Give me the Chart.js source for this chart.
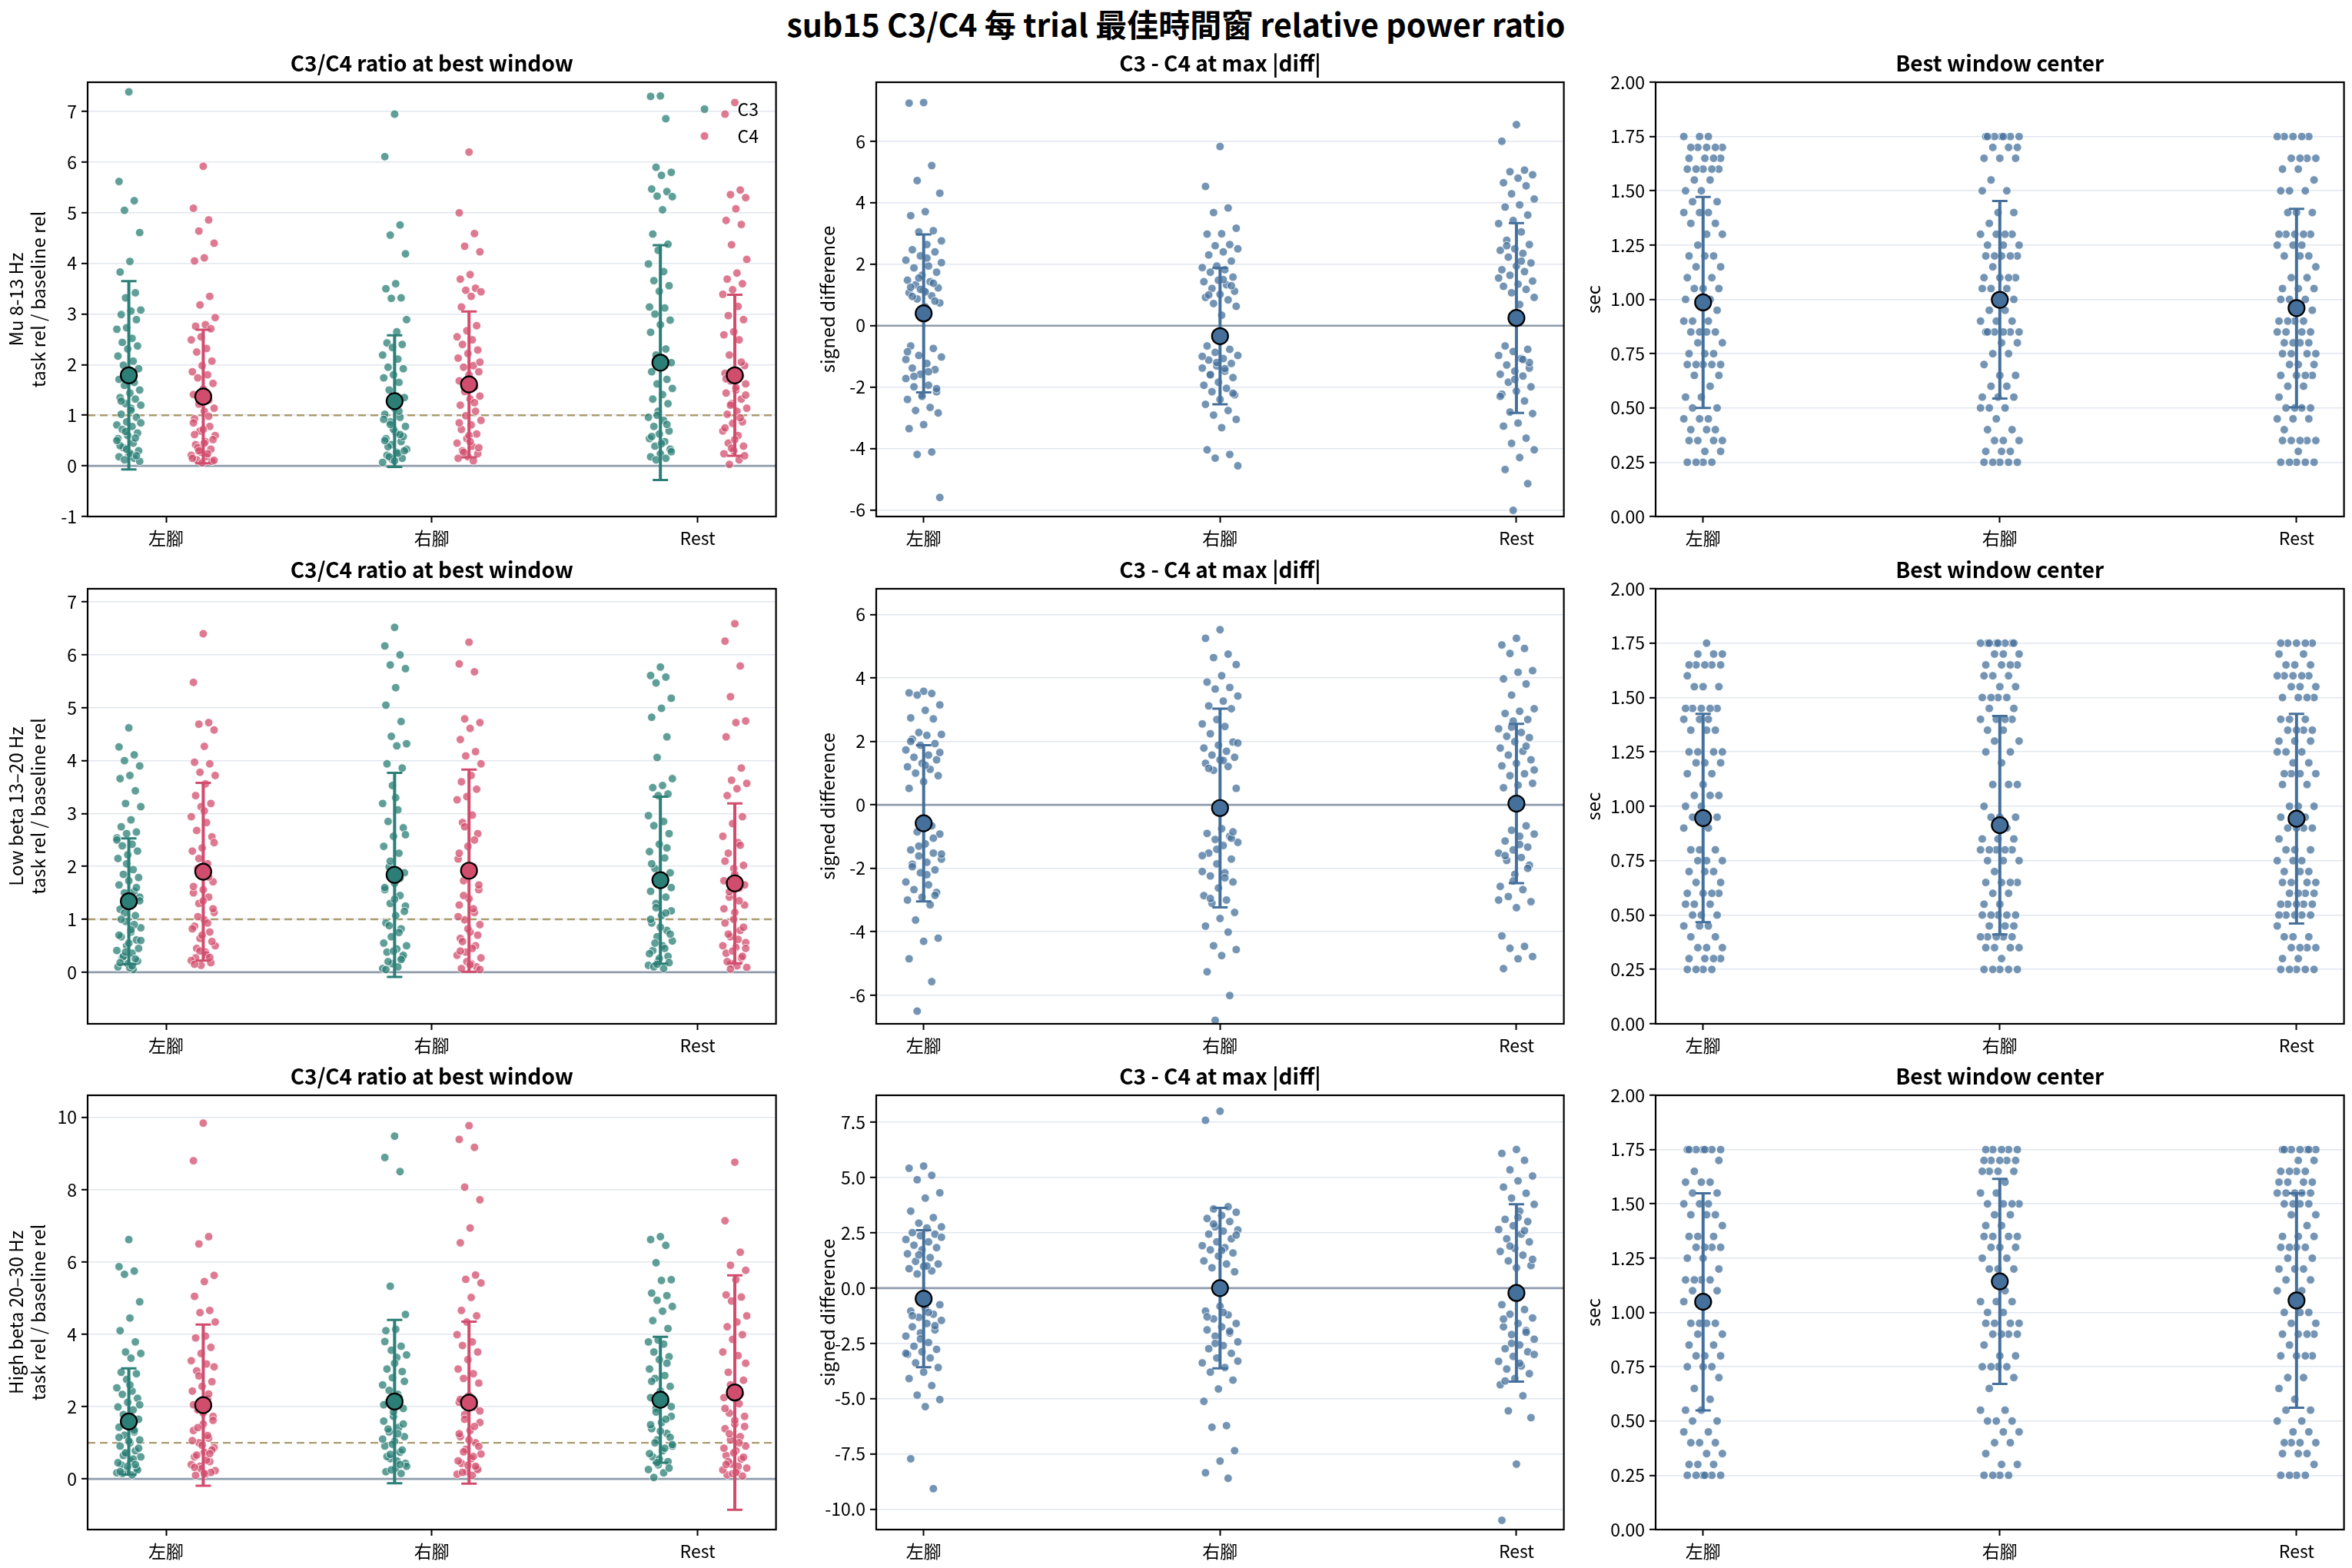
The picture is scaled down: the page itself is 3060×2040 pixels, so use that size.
<!DOCTYPE html>
<html>
<head>
<meta charset="utf-8">
<script src="https://cdn.jsdelivr.net/npm/chart.js@4.4.0/dist/chart.umd.min.js"></script>
<style>
  body { margin: 0; background: #fff; width: 3060px; height: 2040px; position: relative; overflow: hidden; }
  #title { position: absolute; left: 0; top: 6px; width: 3060px; text-align: center; font: bold 41px "Noto Sans CJK TC", sans-serif; line-height: 49px; color: #000; }
  canvas { position: absolute; }
</style>
</head>
<body>
<div id="title">sub15 C3/C4 每 trial 最佳時間窗 relative power ratio</div>
<script>
const categories = ["左腳", "右腳", "Rest"];
const bands = ["Mu 8-13 Hz", "Low beta 13–20 Hz", "High beta 20–30 Hz"];

// C3/C4 ratio per trial: [左腳, 右腳, Rest]
const muC3 = [
	[7.39,5.62,5.24,5.05,4.61,4.04,3.83,3.42,3.32,3.08,3.06,2.99,2.89,2.73,2.70,2.52,2.44,2.37,2.31,2.17,2.07,1.99,1.92,1.80,1.71,1.65,1.59,1.50,1.44,1.35,1.32,1.23,1.20,1.14,1.02,0.96,0.87,0.81,0.78,0.72,0.65,0.60,0.54,0.45,0.36,0.30,0.24,0.18,0.15,0.12,0.09,0.25,0.40,0.55,0.68,0.85,1.10,1.28,0.20,0.33,0.50],
	[6.95,6.11,4.76,4.56,4.19,3.60,3.50,3.32,3.31,2.89,2.65,2.43,2.40,2.34,2.19,2.11,1.95,1.92,1.80,1.74,1.65,1.50,1.35,1.14,1.02,0.96,0.87,0.78,0.66,0.54,0.48,0.42,0.33,0.27,0.21,0.15,0.12,0.07,0.25,0.38,0.58,0.72,0.92,1.08,0.18,0.30,0.10,0.50,0.62,0.82],
	[7.31,7.30,6.86,5.90,5.80,5.74,5.47,5.42,5.33,5.32,5.06,4.58,4.38,4.26,3.99,3.84,3.66,3.56,3.45,3.14,3.12,3.00,2.88,2.79,2.64,2.31,2.19,2.04,1.98,1.86,1.71,1.62,1.53,1.41,1.32,1.23,1.08,0.96,0.90,0.78,0.69,0.63,0.54,0.48,0.39,0.33,0.24,0.18,0.15,0.12,0.28,0.44,0.58,0.82,1.00],
];
const muC4 = [
	[5.92,5.09,4.86,4.64,4.40,4.11,4.05,3.35,3.18,2.93,2.79,2.76,2.71,2.55,2.49,2.32,2.25,2.07,1.98,1.86,1.80,1.74,1.63,1.52,1.41,1.30,1.22,1.14,1.08,0.93,0.78,0.69,0.60,0.48,0.42,0.33,0.27,0.21,0.18,0.12,0.09,0.06,0.15,0.24,0.36,0.52,0.72,0.85,0.98,0.30,0.11,0.45,0.62],
	[6.20,5.00,4.59,4.34,4.23,3.78,3.69,3.51,3.47,3.44,3.35,3.14,2.77,2.67,2.55,2.49,2.40,2.29,2.22,2.13,1.98,1.95,1.86,1.80,1.68,1.56,1.47,1.38,1.32,1.20,1.08,0.99,0.90,0.81,0.72,0.63,0.54,0.45,0.39,0.30,0.24,0.18,0.15,0.10,0.27,0.36,0.60,0.85,1.25,1.62,2.05,0.48],
	[7.18,6.95,5.45,5.36,5.30,5.08,4.85,4.77,4.37,4.08,3.81,3.69,3.60,3.48,3.39,3.15,2.97,2.89,2.65,2.59,2.49,2.19,1.98,1.89,1.83,1.77,1.68,1.62,1.50,1.44,1.32,1.23,1.14,1.08,1.02,0.87,0.84,0.69,0.60,0.45,0.39,0.30,0.24,0.12,0.03,0.20,0.52,0.75,0.95,1.20,1.40,1.55,1.72,2.05,0.35],
];
const lowC3 = [
	[4.62,4.26,4.11,4.00,3.90,3.72,3.66,3.43,3.19,3.13,2.88,2.75,2.65,2.62,2.54,2.42,2.39,2.29,2.22,2.15,1.94,1.85,1.79,1.73,1.65,1.53,1.50,1.42,1.27,1.19,1.07,0.96,0.84,0.76,0.67,0.61,0.50,0.41,0.36,0.27,0.21,0.16,0.10,0.05,0.30,0.45,0.55,0.70,0.90,1.12,1.35,0.08,0.18,0.25,0.38,0.60,0.80,1.00,1.60,2.05,2.50,0.12],
	[6.52,6.17,6.00,5.81,5.74,5.38,5.05,4.74,4.46,4.32,4.28,3.94,3.86,3.53,3.19,3.07,2.85,2.73,2.57,2.38,2.25,1.99,1.88,1.68,1.56,1.45,1.30,1.25,1.07,0.93,0.82,0.67,0.50,0.44,0.38,0.27,0.16,0.07,0.10,0.20,0.32,0.40,0.55,0.75,0.88,1.15,1.38,1.60,1.78,2.10,2.60,3.30,0.05,0.24],
	[5.77,5.61,5.58,5.47,5.18,4.99,4.82,4.45,4.06,3.66,3.53,3.49,3.37,3.34,2.96,2.85,2.77,2.62,2.42,2.28,2.16,1.96,1.88,1.68,1.53,1.42,1.30,1.16,1.07,0.93,0.79,0.67,0.59,0.50,0.41,0.30,0.21,0.13,0.07,0.10,0.18,0.26,0.35,0.45,0.55,0.72,0.85,1.00,1.12,1.22,1.60,1.80,2.05,2.35,0.15],
];
const lowC4 = [
	[6.40,5.48,4.72,4.69,4.58,4.27,3.97,3.94,3.78,3.72,3.56,3.34,3.19,3.13,2.94,2.83,2.68,2.56,2.35,2.29,2.05,1.96,1.71,1.56,1.50,1.42,1.30,1.13,0.99,0.87,0.76,0.64,0.50,0.38,0.27,0.18,0.13,0.22,0.33,0.45,0.58,0.70,0.82,0.93,1.05,1.20,1.35,1.62,1.80,2.15,2.45,3.05,0.15,0.28,0.40],
	[6.24,5.83,5.68,4.79,4.72,4.61,4.40,4.17,4.09,3.94,3.72,3.60,3.46,3.32,3.26,2.97,2.83,2.62,2.38,2.14,1.99,1.73,1.56,1.39,1.27,1.13,0.99,0.90,0.76,0.64,0.50,0.38,0.27,0.16,0.07,0.10,0.20,0.32,0.45,0.58,0.70,0.82,1.05,1.20,1.45,1.65,1.85,2.25,2.50,2.75,0.05,0.14,0.40],
	[6.59,6.26,5.79,5.21,4.75,4.72,4.45,3.86,3.63,3.57,3.47,3.34,2.94,2.81,2.57,2.45,2.25,2.02,1.96,1.73,1.59,1.42,1.27,1.13,0.93,0.79,0.67,0.56,0.47,0.36,0.27,0.16,0.09,0.12,0.20,0.30,0.40,0.50,0.62,0.72,0.85,1.00,1.20,1.35,1.52,1.65,1.85,2.10,2.40,0.06,0.45],
];
const highC3 = [
	[6.62,5.87,5.75,5.66,4.90,4.45,4.10,3.79,3.51,3.47,3.34,2.95,2.91,2.75,2.52,2.43,2.34,2.23,2.12,1.99,1.91,1.78,1.65,1.52,1.43,1.30,1.21,1.08,1.00,0.91,0.78,0.69,0.61,0.49,0.39,0.30,0.23,0.17,0.11,0.15,0.25,0.35,0.45,0.55,0.65,0.85,1.05,1.15,1.35,1.58,2.05,2.60,0.20,0.40,0.72],
	[9.48,8.89,8.50,5.33,4.55,4.14,4.10,3.67,3.56,3.43,3.36,3.04,2.97,2.80,2.60,2.34,2.12,1.95,1.73,1.60,1.43,1.30,1.17,1.04,0.91,0.74,0.56,0.43,0.30,0.20,0.15,0.25,0.35,0.50,0.62,0.80,0.96,1.10,1.25,1.38,1.52,1.85,2.05,2.25,2.45,2.70,3.20,3.80,0.40,0.68],
	[6.70,6.62,6.46,5.98,5.51,5.49,5.14,5.07,4.94,4.77,4.64,4.38,4.16,3.84,3.79,3.73,3.51,3.38,3.30,3.04,2.86,2.78,2.56,2.43,2.25,2.12,1.95,1.73,1.56,1.39,1.26,1.08,0.91,0.78,0.61,0.48,0.39,0.26,0.17,0.04,0.30,0.55,0.70,0.85,1.00,1.15,1.32,1.50,1.65,1.85,2.00,2.35,2.70,3.20,0.45,0.95],
];
const highC4 = [
	[9.84,8.80,6.70,6.50,5.63,5.46,5.05,4.66,4.60,4.34,3.95,3.90,3.64,3.47,3.27,3.18,2.99,2.69,2.56,2.43,2.21,1.91,1.73,1.52,1.34,1.13,1.00,0.87,0.74,0.61,0.48,0.35,0.23,0.13,0.10,0.18,0.28,0.40,0.52,0.66,0.80,0.93,1.06,1.20,1.42,1.62,1.82,2.05,2.35,2.85,3.10,0.15,0.32,0.70],
	[9.77,9.39,9.17,8.07,7.72,6.94,6.53,5.64,5.52,5.42,5.02,4.66,4.51,4.34,3.99,3.79,3.69,3.51,3.30,3.04,2.91,2.78,2.65,2.30,2.12,1.99,1.78,1.56,1.34,1.17,1.00,0.82,0.69,0.56,0.43,0.30,0.20,0.13,0.10,0.18,0.26,0.38,0.50,0.62,0.75,0.90,1.08,1.25,1.45,1.65,1.88,2.05,2.20,0.35],
	[8.76,7.14,6.27,5.91,5.77,5.51,5.09,5.03,4.92,4.51,4.34,4.21,3.99,3.86,3.51,3.41,2.95,2.73,2.47,2.25,2.08,1.82,1.73,1.52,1.39,1.17,1.08,0.91,0.78,0.65,0.55,0.41,0.30,0.20,0.11,0.08,0.15,0.25,0.35,0.48,0.60,0.72,0.85,1.00,1.25,1.45,1.62,1.95,2.35,2.60,3.20,0.18,0.40],
];

// C3 - C4 signed difference per trial
const muDiff = [
	[7.26,7.24,5.21,4.72,4.31,3.71,3.58,3.09,3.05,2.76,2.64,2.47,2.40,2.27,2.13,1.94,1.88,1.74,1.64,1.48,1.43,1.33,1.23,1.14,1.07,0.97,0.87,0.74,0.61,-0.66,-0.74,-0.97,-1.02,-1.23,-1.38,-1.43,-1.58,-1.72,-1.94,-1.99,-2.15,-2.25,-2.40,-2.66,-2.76,-2.84,-3.22,-3.35,-4.11,-4.19,-5.59,1.10,1.25,1.38,1.55,2.05,2.20,0.95,0.80,1.18,-1.10,-1.50,-1.65,-2.05,-2.30,-0.85],
	[5.83,4.53,3.83,3.68,3.17,2.99,2.98,2.64,2.60,2.50,2.40,2.30,2.10,1.94,1.89,1.82,1.74,1.58,1.48,1.43,1.33,1.21,1.12,1.02,0.92,0.84,0.72,0.63,0.34,-0.66,-0.77,-0.87,-0.97,-1.07,-1.12,-1.23,-1.31,-1.38,-1.48,-1.58,-1.69,-1.84,-1.94,-2.04,-2.15,-2.25,-2.40,-2.56,-2.76,-2.91,-3.05,-3.32,-4.04,-4.19,-4.31,-4.56,1.50,1.00,1.30,-1.20,-1.00,-1.40,-1.60,-2.20],
	[6.54,6.00,5.06,5.01,4.91,4.80,4.65,4.55,4.29,4.12,3.93,3.86,3.60,3.42,3.32,3.05,2.78,2.64,2.50,2.45,2.35,2.23,2.04,1.94,1.82,1.76,1.64,1.45,1.35,1.28,1.18,1.07,0.92,0.69,-0.66,-0.77,-0.84,-0.97,-1.07,-1.28,-1.38,-1.48,-1.58,-1.64,-1.84,-1.99,-2.13,-2.23,-2.45,-2.81,-2.86,-3.17,-3.27,-3.66,-3.83,-4.04,-4.29,-4.68,-5.14,-6.01,1.55,2.10,2.60,-1.20,-1.75,-2.30,-1.10],
];
const lowDiff = [
	[3.58,3.53,3.51,3.46,3.15,2.98,2.74,2.71,2.28,2.22,2.19,2.07,1.93,1.88,1.73,1.57,1.50,1.42,1.31,1.20,1.12,1.00,0.92,0.73,0.52,-0.66,-0.85,-0.92,-1.23,-1.42,-1.52,-1.61,-1.71,-1.81,-1.87,-2.05,-2.14,-2.43,-2.52,-2.67,-2.76,-2.91,-3.00,-3.15,-3.63,-4.20,-4.30,-4.85,-5.57,-6.50,1.65,1.25,2.00,-1.05,-1.30,-1.55,-2.20,-1.95,-2.85],
	[5.52,5.25,4.75,4.64,4.42,4.07,3.87,3.70,3.65,3.43,3.27,3.12,3.03,2.69,2.55,2.47,2.24,1.98,1.88,1.79,1.69,1.57,1.50,1.42,1.31,1.21,1.09,0.52,-0.75,-0.90,-0.99,-1.09,-1.18,-1.28,-1.52,-1.71,-1.86,-2.10,-2.14,-2.24,-2.43,-2.62,-2.86,-3.00,-3.10,-3.39,-3.58,-3.82,-4.01,-4.44,-4.56,-4.75,-5.26,-6.01,-6.79,1.95,1.40,1.15,-1.05,-1.40,-1.60,-2.30,-2.95,-0.85],
	[5.25,5.04,4.93,4.77,4.23,4.18,3.97,3.81,3.46,3.03,2.95,2.88,2.69,2.64,2.40,2.28,2.16,2.12,1.99,1.79,1.69,1.57,1.42,1.31,1.23,0.98,0.92,0.68,0.62,0.54,-0.66,-0.80,-0.92,-0.99,-1.14,-1.33,-1.42,-1.52,-1.66,-1.75,-1.90,-2.19,-2.57,-2.67,-2.89,-3.05,-3.24,-4.13,-4.46,-4.52,-4.78,-4.85,-5.16,1.85,2.45,1.10,-1.25,-1.60,-2.00,-2.40,-3.00],
];
const highDiff = [
	[5.52,5.42,5.10,4.90,4.31,4.07,3.48,3.19,2.94,2.77,2.72,2.51,2.44,2.37,2.20,2.09,1.94,1.83,1.73,1.55,1.38,1.21,1.09,0.98,0.88,0.78,0.64,-0.75,-0.89,-1.04,-1.18,-1.32,-1.46,-1.60,-1.75,-1.89,-2.03,-2.17,-2.46,-2.63,-2.77,-2.88,-2.99,-3.16,-3.38,-3.59,-3.80,-4.09,-4.41,-4.84,-5.04,-5.36,-7.72,-9.07,1.50,2.30,1.00,-1.25,-1.70,-2.30,-2.95,-1.10],
	[8.00,7.59,3.68,3.58,3.43,3.29,3.15,3.01,2.77,2.63,2.58,2.44,2.23,2.09,1.92,1.83,1.73,1.59,1.45,1.23,1.09,0.92,0.74,-0.82,-1.04,-1.21,-1.39,-1.60,-1.75,-1.89,-2.03,-2.17,-2.43,-2.60,-2.74,-2.95,-3.16,-3.38,-3.59,-3.80,-4.16,-4.56,-5.12,-6.22,-6.29,-7.35,-7.82,-8.35,-8.60,2.90,2.40,1.70,-1.30,-1.95,-2.50,-3.30,-1.10],
	[6.27,6.09,5.78,5.35,5.07,4.85,4.57,4.29,4.07,3.79,3.48,3.11,3.01,2.82,2.65,2.44,2.23,2.09,1.80,1.66,1.49,1.23,1.02,0.92,-0.75,-0.97,-1.18,-1.35,-1.60,-1.75,-1.92,-2.10,-2.31,-2.57,-2.74,-2.88,-3.09,-3.31,-3.52,-3.66,-3.87,-4.09,-4.37,-4.87,-5.55,-5.86,-7.96,-10.50,2.60,1.90,1.30,3.20,-1.40,-2.00,-2.50,-3.00,-3.40,-4.20],
];

// best window center (sec): number of trials at each level
const centerLevels = [0.25,0.30,0.35,0.40,0.45,0.50,0.55,0.60,0.65,0.70,0.75,0.80,0.85,0.90,0.95,1.00,1.05,1.10,1.15,1.20,1.25,1.30,1.35,1.40,1.45,1.50,1.55,1.60,1.65,1.70,1.75];
const muCenterCounts = [
	[4,2,4,3,3,2,2,1,2,5,3,2,4,3,1,3,3,2,2,3,1,2,2,3,2,2,2,5,4,5,3],
	[5,3,3,2,1,3,3,2,2,1,2,2,6,3,2,2,3,4,1,5,3,4,1,2,0,2,1,0,3,3,7],
	[5,1,5,1,3,4,1,2,4,3,4,4,4,4,2,3,3,2,1,3,3,5,0,3,0,3,1,2,4,0,5],
];
const lowCenterCounts = [
	[4,4,3,2,3,3,3,4,2,3,3,3,0,2,2,2,3,1,2,3,4,0,3,3,5,0,3,1,5,3,1],
	[5,1,4,5,3,5,2,2,4,1,3,5,3,1,3,1,0,3,0,1,2,2,2,4,2,4,2,3,4,3,8],
	[5,2,4,3,1,5,5,4,4,3,3,3,1,4,2,3,0,2,4,2,3,3,4,3,0,4,3,5,3,2,5],
];
const highCenterCounts = [
	[6,3,2,3,2,2,2,1,1,1,3,3,2,2,4,0,2,2,4,1,2,4,3,1,3,3,2,3,1,1,7],
	[4,2,1,2,2,3,2,0,1,1,4,2,1,4,4,2,3,1,0,3,2,3,4,2,2,4,2,1,4,5,5],
	[4,1,3,4,2,2,2,1,1,2,0,4,1,4,2,3,1,2,2,3,2,4,3,1,2,4,5,4,4,2,7],
];

// mean and SD (error bars) per category
const muC3Mean = [1.79, 1.28, 2.04], muC3Sd = [1.86, 1.30, 2.32];
const muC4Mean = [1.37, 1.61, 1.79], muC4Sd = [1.32, 1.44, 1.59];
const lowC3Mean = [1.34, 1.84, 1.74], lowC3Sd = [1.19, 1.93, 1.58];
const lowC4Mean = [1.90, 1.92, 1.68], lowC4Sd = [1.68, 1.91, 1.51];
const highC3Mean = [1.59, 2.14, 2.19], highC3Sd = [1.47, 2.26, 1.74];
const highC4Mean = [2.04, 2.11, 2.39], highC4Sd = [2.23, 2.24, 3.24];
const muDiffMean = [0.40, -0.34, 0.25], muDiffSd = [2.57, 2.22, 3.09];
const lowDiffMean = [-0.58, -0.10, 0.04], lowDiffSd = [2.46, 3.13, 2.51];
const highDiffMean = [-0.48, 0.00, -0.22], highDiffSd = [3.10, 3.63, 4.01];
const muCenterMean = [0.986, 0.998, 0.960], muCenterSd = [0.486, 0.455, 0.457];
const lowCenterMean = [0.946, 0.913, 0.943], lowCenterSd = [0.479, 0.502, 0.482];
const highCenterMean = [1.049, 1.143, 1.055], highCenterSd = [0.500, 0.472, 0.494];

// tick labels
const ratioTicks = [[-1,0,1,2,3,4,5,6,7], [0,1,2,3,4,5,6,7], [0,2,4,6,8,10]];
const diffTicks = [[-6,-4,-2,0,2,4,6], [-6,-4,-2,0,2,4,6], [-10,-7.5,-5,-2.5,0,2.5,5,7.5]];
const centerTicks = [0,0.25,0.5,0.75,1,1.25,1.5,1.75,2];

// ---------------------------------------------------------------
const colLeft = [114, 1140, 2154], colRight = [1012, 2037, 3052];
const rowTop = [107, 766, 1425], rowBottom = [672, 1332, 1990];
const YW = 110, TH = 42, XH = 50, PADR = 4;

const TEAL = "#2b7f76", PINK = "#d14d6e", BLUE = "#45709b";
const TEAL_PT = "rgba(43,127,118,0.75)", PINK_PT = "rgba(209,77,110,0.75)", BLUE_PT = "rgba(69,112,155,0.75)";

Chart.defaults.font.family = '"Noto Sans CJK TC", sans-serif';
Chart.defaults.color = "#000";

function expand(levels, counts) {
	const out = [];
	levels.forEach((v, i) => {
		for (let k = 0; k < counts[i]; k++) out.push(v);
	});
	return out;
}

// strip-plot spread
function jit(i) {
	return ((i * 37 + 11) % 23) / 22 - 0.5;
}

function makeDecor(spec) {
	return {
		id: "decor",
		beforeDatasetsDraw(chart) {
			const { ctx, chartArea: a, scales } = chart;
			const y = scales.y;
			ctx.save();
			ctx.beginPath();
			ctx.rect(a.left, a.top, a.right - a.left, a.bottom - a.top);
			ctx.clip();
			if (spec.unity) {
				const py = y.getPixelForValue(1);
				ctx.strokeStyle = "#a99b6e";
				ctx.lineWidth = 2.4;
				ctx.setLineDash([10, 6]);
				ctx.beginPath();
				ctx.moveTo(a.left, py);
				ctx.lineTo(a.right, py);
				ctx.stroke();
				ctx.setLineDash([]);
			}
			if (spec.zero) {
				const py = y.getPixelForValue(0);
				ctx.strokeStyle = "#8e9bab";
				ctx.lineWidth = 2.6;
				ctx.beginPath();
				ctx.moveTo(a.left, py);
				ctx.lineTo(a.right, py);
				ctx.stroke();
			}
			ctx.restore();
		},
		afterDatasetsDraw(chart) {
			const { ctx, scales } = chart;
			const x = scales.x, y = scales.y;
			ctx.save();
			spec.groups.forEach((g) => {
				for (let k = 0; k < 3; k++) {
					const px = x.getPixelForValue(k + g.offset);
					const pm = y.getPixelForValue(g.mean[k]);
					const pt = y.getPixelForValue(g.mean[k] + g.sd[k]);
					const pb = y.getPixelForValue(g.mean[k] - g.sd[k]);
					ctx.strokeStyle = g.color;
					ctx.lineWidth = 4;
					ctx.beginPath();
					ctx.moveTo(px, pt);
					ctx.lineTo(px, pb);
					ctx.stroke();
					ctx.lineWidth = 3;
					ctx.beginPath();
					ctx.moveTo(px - 10, pt);
					ctx.lineTo(px + 10, pt);
					ctx.moveTo(px - 10, pb);
					ctx.lineTo(px + 10, pb);
					ctx.stroke();
					ctx.fillStyle = g.color;
					ctx.strokeStyle = "#000";
					ctx.lineWidth = 2.2;
					ctx.beginPath();
					ctx.arc(px, pm, 10.5, 0, Math.PI * 2);
					ctx.fill();
					ctx.stroke();
				}
			});
			ctx.restore();
		},
		afterDraw(chart) {
			const { ctx, chartArea: a } = chart;
			ctx.save();
			ctx.strokeStyle = "#000";
			ctx.lineWidth = 2.2;
			ctx.strokeRect(a.left, a.top, a.right - a.left, a.bottom - a.top);
			if (spec.legend) {
				spec.groups.forEach((g, i) => {
					const ly = a.top + 35 + i * 35;
					ctx.fillStyle = g.point;
					ctx.strokeStyle = "rgba(255,255,255,0.85)";
					ctx.lineWidth = 1;
					ctx.beginPath();
					ctx.arc(a.right - 93, ly, 5.5, 0, Math.PI * 2);
					ctx.fill();
					ctx.stroke();
					ctx.fillStyle = "#000";
					ctx.font = '23px "Noto Sans CJK TC"';
					ctx.textBaseline = "middle";
					ctx.textAlign = "left";
					ctx.fillText(g.label, a.right - 50, ly);
				});
			}
			ctx.restore();
		},
	};
}

function makePanel(spec) {
	const l = colLeft[spec.col], r = colRight[spec.col];
	const t = rowTop[spec.row], b = rowBottom[spec.row];
	const canvas = document.createElement("canvas");
	canvas.width = YW + (r - l) + PADR;
	canvas.height = TH + (b - t) + XH;
	canvas.style.left = l - YW + "px";
	canvas.style.top = t - TH + "px";
	document.body.appendChild(canvas);

	const datasets = [];
	spec.groups.forEach((g) => {
		const pts = [];
		g.values.forEach((vals, k) => {
			vals.forEach((v, i) => {
				pts.push({ x: k + g.offset + jit(i) * 2 * spec.jw, y: v });
			});
		});
		datasets.push({
			label: g.label,
			data: pts,
			backgroundColor: g.point,
			borderColor: "rgba(255,255,255,0.8)",
			borderWidth: 1,
			pointRadius: 5.4,
		});
	});

	new Chart(canvas, {
		type: "scatter",
		data: { datasets },
		options: {
			responsive: false,
			animation: false,
			events: [],
			layout: { padding: { left: 0, right: PADR, top: 0, bottom: 0 } },
			plugins: {
				legend: { display: false },
				tooltip: { enabled: false },
				title: {
					display: true,
					fullSize: false,
					text: spec.title,
					color: "#000",
					font: { size: 28, weight: "bold", lineHeight: 1.25 },
					padding: { top: 0, bottom: 7 },
				},
			},
			scales: {
				x: {
					type: "linear",
					min: spec.xmin,
					max: spec.xmax,
					afterBuildTicks: (s) => {
						s.ticks = [0, 1, 2].map((v) => ({ value: v }));
					},
					afterFit: (s) => {
						s.height = XH;
					},
					ticks: {
						autoSkip: false,
						maxRotation: 0,
						padding: 6,
						color: "#000",
						font: { size: 23 },
						callback: (v) => categories[v],
					},
					grid: { drawOnChartArea: false, drawTicks: true, tickLength: 8, tickWidth: 2, tickColor: "#000" },
					border: { display: false },
				},
				y: {
					min: spec.ymin,
					max: spec.ymax,
					afterBuildTicks: (s) => {
						s.ticks = spec.ticks.map((v) => ({ value: v }));
					},
					afterFit: (s) => {
						s.width = YW;
					},
					ticks: {
						autoSkip: false,
						padding: 6,
						color: "#000",
						font: { size: 23 },
						callback: (v) => v.toFixed(spec.dec),
					},
					grid: { color: "#e1e6ef", lineWidth: 1.6, drawTicks: true, tickLength: 8, tickWidth: 2, tickColor: "#000" },
					border: { display: false },
					title: {
						display: true,
						text: spec.ytitle,
						color: "#000",
						font: { size: 24, lineHeight: 1.22 },
						padding: { top: spec.ypad, bottom: 0 },
					},
				},
			},
		},
		plugins: [makeDecor(spec)],
	});
}

const ratioC3 = [muC3, lowC3, highC3], ratioC4 = [muC4, lowC4, highC4];
const c3Mean = [muC3Mean, lowC3Mean, highC3Mean], c3Sd = [muC3Sd, lowC3Sd, highC3Sd];
const c4Mean = [muC4Mean, lowC4Mean, highC4Mean], c4Sd = [muC4Sd, lowC4Sd, highC4Sd];
const diffVals = [muDiff, lowDiff, highDiff];
const diffMean = [muDiffMean, lowDiffMean, highDiffMean], diffSd = [muDiffSd, lowDiffSd, highDiffSd];
const centerCounts = [muCenterCounts, lowCenterCounts, highCenterCounts];
const centerMean = [muCenterMean, lowCenterMean, highCenterMean], centerSd = [muCenterSd, lowCenterSd, highCenterSd];
const ratioLim = [[-1.0, 7.58], [-0.976, 7.25], [-1.40, 10.61]];
const diffLim = [[-6.21, 7.92], [-6.90, 6.81], [-10.92, 8.72]];

for (let row = 0; row < 3; row++) {
	makePanel({
		row, col: 0,
		title: "C3/C4 ratio at best window",
		ytitle: [bands[row], "task rel / baseline rel"],
		ypad: 2,
		xmin: -0.295, xmax: 2.295, jw: 0.045,
		ymin: ratioLim[row][0], ymax: ratioLim[row][1],
		ticks: ratioTicks[row], dec: 0,
		zero: true, unity: true, legend: row === 0,
		groups: [
			{ label: "C3", offset: -0.14, values: ratioC3[row], mean: c3Mean[row], sd: c3Sd[row], color: TEAL, point: TEAL_PT },
			{ label: "C4", offset: 0.14, values: ratioC4[row], mean: c4Mean[row], sd: c4Sd[row], color: PINK, point: PINK_PT },
		],
	});
	makePanel({
		row, col: 1,
		title: "C3 - C4 at max |diff|",
		ytitle: "signed difference",
		ypad: 32,
		xmin: -0.16, xmax: 2.16, jw: 0.06,
		ymin: diffLim[row][0], ymax: diffLim[row][1],
		ticks: diffTicks[row], dec: row === 2 ? 1 : 0,
		zero: true,
		groups: [
			{ label: "diff", offset: 0, values: diffVals[row], mean: diffMean[row], sd: diffSd[row], color: BLUE, point: BLUE_PT },
		],
	});
	makePanel({
		row, col: 2,
		title: "Best window center",
		ytitle: "sec",
		ypad: 14,
		xmin: -0.16, xmax: 2.16, jw: 0.065,
		ymin: 0, ymax: 2,
		ticks: centerTicks, dec: 2,
		groups: [
			{ label: "center", offset: 0, values: centerCounts[row].map((c) => expand(centerLevels, c)), mean: centerMean[row], sd: centerSd[row], color: BLUE, point: BLUE_PT },
		],
	});
}
</script>
</body>
</html>
